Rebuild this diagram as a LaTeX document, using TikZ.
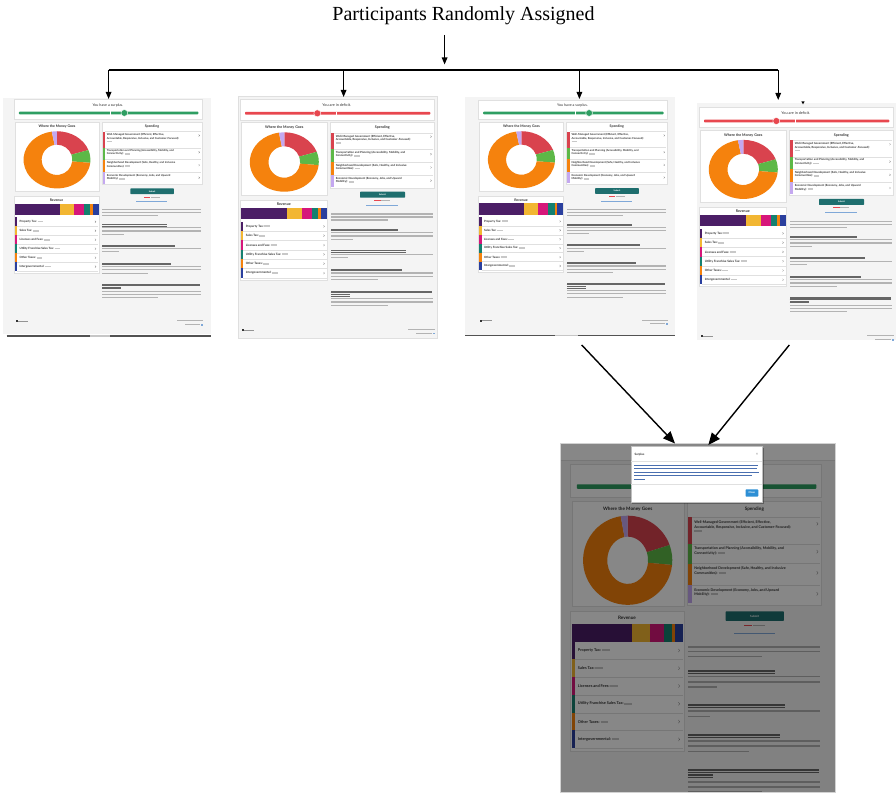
\documentclass[tikz,border=0pt]{standalone}
\usepackage{fontspec}
\setmainfont{Liberation Serif}
\newfontfamily\ssfont{Lato}
\usetikzlibrary{arrows.meta,calc}
\definecolor{pagebg}{HTML}{F4F4F4}
\definecolor{cardln}{HTML}{E0E0E0}
\definecolor{surgreen}{HTML}{2E9E62}
\definecolor{defred}{HTML}{E8474F}
\definecolor{dred}{HTML}{D9434E}
\definecolor{dgreen}{HTML}{5DB847}
\definecolor{dorange}{HTML}{F5820D}
\definecolor{dpurple}{HTML}{C4A8F0}
\definecolor{rpurple}{HTML}{4B1E66}
\definecolor{ryellow}{HTML}{F2B632}
\definecolor{rmagenta}{HTML}{D6177A}
\definecolor{rteal}{HTML}{15806F}
\definecolor{rblue}{HTML}{2A3F9E}
\definecolor{btnteal}{HTML}{1E6E6E}
\definecolor{ssdark}{HTML}{333333}
\definecolor{txtgray}{HTML}{B3B3B3}
\definecolor{amtgray}{HTML}{C8C8C8}
\definecolor{hdgray}{HTML}{666666}
\definecolor{linkblue}{HTML}{7FA8D8}
\definecolor{closeblue}{HTML}{2D8FD5}
\definecolor{modaltxt}{HTML}{4A6FB0}

\newcommand\curfs{1}
\newcommand\ssz[1]{\pgfmathsetmacro\ssfsz{#1*\curfs}\pgfmathsetmacro\ssfbl{1.2*\ssfsz}\fontsize{\ssfsz pt}{\ssfbl pt}\selectfont}
\newcommand\amt{{\textcolor{amtgray}{\rule[0.05em]{2em}{0.55em}}}}
\newcommand\dseg[3]{\fill[#1] (#2:34.5 and \dry) arc[start angle=#2,end angle=#3,x radius=34.5,y radius=\dry] -- (#3:15.8 and \diry) arc[start angle=#3,end angle=#2,x radius=15.8,y radius=\diry] -- cycle;}

\tikzset{
  card/.style={fill=white, draw=cardln, line width=0.3},
  sst/.style={inner sep=0pt, outer sep=0pt, text=ssdark, font={\ssfont\ssz{#1}}},
  sstb/.style={sst=#1, font={\ssfont\bfseries\ssz{#1}}},
  itm/.style={sstb=2.8, anchor=north west, align=left},
  conn/.style={draw=black, line width=1.2},
  arr/.style={conn, -{Triangle[length=7,width=5.5]}},
  arrb/.style={draw=black, line width=1.4, -{Triangle[length=12,width=10]}},
}

% #1 xshift #2 yshift #3 xscale #4 yscale #5 font scale #6 surplus(1)/deficit(0)
% #7 bottom of left card #8 top of revenue card #9 top of revenue rows
\newcommand\sspage[9]{%
\begin{scope}[shift={(#1,#2)},xscale=#3,yscale=#4]
\def\curfs{#5}%
\ifnum#6=1 \def\barcol{surgreen}\def\circx{115.5}\def\gapx{101}\def\sstitle{You have a surplus.}%
\else \def\barcol{defred}\def\circx{79}\def\gapx{98}\def\sstitle{You are in deficit.}\fi
\pgfmathsetmacro\wbot{#7}\pgfmathsetmacro\revtop{#8}\pgfmathsetmacro\rowtop{#9}%
\pgfmathsetmacro\rowh{(181-\rowtop)/6}%
\pgfmathsetmacro\revbot{\rowtop+6*\rowh+2}%
\pgfmathsetmacro\dcy{65.3-(98.3-\wbot)*0.35}%
\pgfmathsetmacro\dry{29.7-(98.3-\wbot)*0.25}%
\pgfmathsetmacro\diry{0.53*\dry}%
% header card
\draw[card] (1.7,2.7) rectangle (196,23);
\node[sst=3.8] (hd) at (98.5,8.3) {\sstitle};
\fill[\barcol,rounded corners=0.8] (6.7,15.2) rectangle (192,18);
\fill[white] (\gapx-0.35,15) rectangle (\gapx+0.35,18.2);
\filldraw[fill=\barcol,draw=white,line width=0.4] (\circx,16.6) circle[radius=3.5];
% where the money goes
\draw[card] (2.7,25.7) rectangle (89.3,\wbot);
\node[sstb=3.6] (wt) at (46,31) {Where the Money Goes};
\begin{scope}[shift={(46,\dcy)}]
\dseg{dred}{-90}{-20}
\dseg{dgreen}{-20}{6}
\dseg{dorange}{6}{261}
\dseg{dpurple}{261}{270}
\end{scope}
% spending
\draw[card] (92.3,25.7) rectangle (196,91);
\node[sstb=3.6] (sp) at (144,31) {Spending};
\fill[dred] (93,36) rectangle (95.5,52.7);
\fill[dgreen] (93,52.7) rectangle (95.5,65);
\fill[dorange] (93,65) rectangle (95.5,78.3);
\fill[dpurple] (93,78.3) rectangle (95.5,90);
\draw[cardln,line width=0.3] (95.5,36) -- (195,36) (95.5,52.7) -- (195,52.7) (95.5,65) -- (195,65) (95.5,78.3) -- (195,78.3);
\node[itm] (i1) at (97.5,38.3) {Well-Managed Government (Efficient, Effective,\\Accountable, Responsive, Inclusive, and Customer-Focused):\\\amt};
\node[itm] (i2) at (97.5,54.6) {Transportation and Planning (Accessibility, Mobility, and\\Connectivity): \amt};
\node[itm] (i3) at (97.5,67.2) {Neighborhood Development (Safe, Healthy, and Inclusive\\Communities): \amt};
\node[itm] (i4) at (97.5,80.6) {Economic Development (Economy, Jobs, and Upward\\Mobility): \amt};
\foreach \y in {40,57.5,70.8,84} \draw[gray,line width=0.3] (192.2,\y-1) -- (193.2,\y) -- (192.2,\y+1);
% submit
\fill[btnteal,rounded corners=0.6] (121.7,95) rectangle (166.7,101);
\node[sstb=2.2,text=white] (sb) at (144.2,98) {Submit};
\fill[defred] (136,103.6) rectangle (142.5,104.5);
\fill[txtgray] (143,103.6) rectangle (152,104.5);
\fill[linkblue] (128,108.3) rectangle (160,109.1);
% revenue
\draw[card] (1.7,\revtop) rectangle (89.3,\revbot);
\node[sstb=3.6] (rv) at (45.5,\revtop+4) {Revenue};
\foreach \c/\a/\b in {rpurple/2.7/49, ryellow/49/63.3, rmagenta/63.3/73.7, rteal/73.7/80, dorange/80/82.7, rblue/82.7/89}
  \fill[\c] (\a,\revtop+7.7) rectangle (\b,\revtop+19.4);
\foreach \c/\t [count=\i from 0] in {rpurple/Property Tax:, ryellow/Sales Tax:, rmagenta/Licenses and Fees:, rteal/Utility Franchise Sales Tax:, dorange/Other Taxes:, rblue/Intergovernmental:}{
  \fill[\c] (2.7,\rowtop+\i*\rowh) rectangle (5,\rowtop+\i*\rowh+\rowh);
  \draw[cardln,line width=0.3] (5,\rowtop+\i*\rowh+\rowh) -- (88.5,\rowtop+\i*\rowh+\rowh);
  \node[sstb=3.0,anchor=west] (r\i) at (7.5,\rowtop+\i*\rowh+0.5*\rowh) {\t\ \amt};
  \draw[gray,line width=0.3] (85.2,\rowtop+\i*\rowh+0.5*\rowh-1) -- (86.2,\rowtop+\i*\rowh+0.5*\rowh) -- (85.2,\rowtop+\i*\rowh+0.5*\rowh+1);
}
% text column
\foreach \a/\b/\y in {92.3/195/117.3, 92.3/195/120.3, 92.3/150/123.3,
  92.3/195/136, 92.3/195/139.3, 92.3/115/142.6,
  92.3/195/157.7, 92.3/110/161,
  92.3/195/176.3, 92.3/195/179.6, 92.3/140/183,
  92.3/195/202, 92.3/195/205.3, 92.3/150/208.7}
  \fill[txtgray] (\a,\y-0.55) rectangle (\b,\y+0.55);
\foreach \a/\b/\y in {92.3/160/132.7, 92.3/168/154, 92.3/164/172.7, 92.3/194/194.7, 92.3/112/198}{
  \fill[hdgray] (\a,\y-0.6) rectangle (\b,\y+0.6);
  \draw[hdgray,line width=0.2] (\a,\y+1) -- (\b,\y+1);
}
% footer
\fill[ssdark] (3.3,232.2) rectangle (5.3,234.4);
\fill[hdgray!70] (5.8,232.9) rectangle (16,233.7);
\fill[txtgray] (170,232.3) rectangle (197,233.1);
\fill[txtgray] (178,236.3) rectangle (194,237.1);
\fill[linkblue] (195,235.8) rectangle (197,237.6);
\end{scope}}

\begin{document}
\begin{tikzpicture}[x=1pt,y=-1pt]
\useasboundingbox (0,0) rectangle (896,794);
\fill[white] (0,0) rectangle (896,794);

\node[font=\fontsize{20}{24}\selectfont, anchor=base, inner sep=0pt] (title) at (463.5,20.5) {Participants Randomly Assigned};

% page backgrounds
\fill[pagebg] (3.3,98) rectangle (210.7,334);
\filldraw[fill=pagebg, draw=gray!25, line width=0.4] (238.3,96.7) rectangle (436.7,338.3);
\fill[pagebg] (465,96.7) rectangle (675,335);
\fill[pagebg] (696.7,102.7) rectangle (896,340);

% the four small screenshots
\sspage{12.4}{97.0}{0.969}{0.962}{0.965}{1}{98.3}{103.3}{125}
\sspage{238.3}{96.7}{1}{1}{1}{0}{98.3}{103.3}{125}
\sspage{476.7}{97.1}{0.973}{0.958}{0.965}{1}{98.3}{103.3}{125}
\sspage{697.3}{104.5}{1}{0.994}{1}{0}{98.3}{103.3}{125}

% scroll lines under screenshots 1 and 3
\draw[line width=1.3, ssdark!85] (6.7,336) -- (210.7,336);
\draw[line width=1.3, gray!45] (90,336) -- (110,336);
\draw[line width=1.3, ssdark!85] (465,335.7) -- (675,335.7);
\draw[line width=1.3, gray!45] (555,335.7) -- (578,335.7);
% small marker on screenshot 4
\fill[black] (801.3,101.3) -- (804.7,101.3) -- (803,104.3) -- cycle;

% large screenshot with popup
\begin{scope}
\clip (560,443.3) rectangle (835,792.7);
\fill[pagebg] (560,443.3) rectangle (835,792.7);
\fill[white] (560,443.3) rectangle (835,460);
\draw[cardln] (560,460) -- (835,460);
\sspage{568.2}{460.1}{1.293}{1.592}{1.29}{1}{91.5}{95}{114}
\fill[black,opacity=0.47] (560,443.3) rectangle (835,792.7);
\end{scope}
\draw[gray!35, line width=0.5] (560,443.3) rectangle (835,792.7);

\fill[black,opacity=0.3] (632.3,447.5) rectangle (763.6,504);
\node[draw=gray!50, fill=white, line width=0.4, minimum width=131.3, minimum height=56.3, anchor=north west, inner sep=0pt] (modal) at (631,446) {};
\node[sstb=3,anchor=west] (mt) at (634.5,455) {Surplus};
\node[sst=4,text=gray] (mx) at (757,454) {×};
\draw[cardln,line width=0.4] (631,460.7) -- (762.3,460.7);
\foreach \y/\b in {465.2/758, 468.7/757, 472.2/759, 475.7/752, 479.2/645}
  \fill[modaltxt] (634.3,\y-0.6) rectangle (\b,\y+0.6);
\draw[cardln,line width=0.4] (631,484.3) -- (762.3,484.3);
\fill[closeblue, rounded corners=0.8] (745.5,489.3) rectangle (758.3,496.7);
\node[sstb=2.6,text=white] (cl) at (751.9,493) {Close};

% connectors
\coordinate (a0) at (444.6,35);
\coordinate (a1) at (444.6,64.5);
\draw[arr] (a0) -- (a1);
\coordinate (h1) at (108.6,70);
\coordinate (h2) at (343.6,70);
\coordinate (h3) at (579.4,70);
\coordinate (h4) at (778.2,70);
\coordinate (p1) at (108.6,99);
\coordinate (p2) at (343.6,97);
\coordinate (p3) at (579.4,99);
\coordinate (p4) at (778.2,100);
\draw[conn] (h1) -- (h4);
\foreach \k in {1,...,4} \draw[arr] (h\k) -- (p\k);
\coordinate (d1) at (581.7,345);
\coordinate (d2) at (789.3,345);
\coordinate (tL) at (675,443.5);
\coordinate (tR) at (708.3,445);
\draw[arrb] (d1) -- (tL);
\draw[arrb] (d2) -- (tR);
\end{tikzpicture}
\end{document}
